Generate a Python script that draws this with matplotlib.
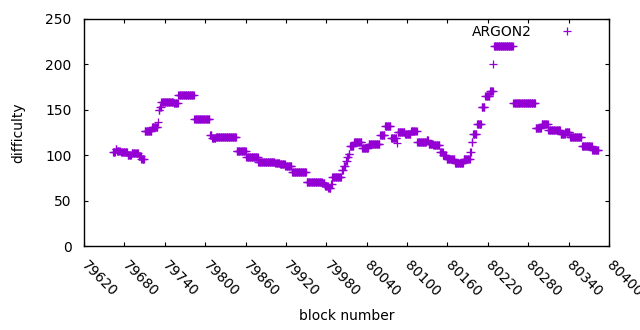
import numpy as np
import matplotlib
matplotlib.use('Agg')
import matplotlib.pyplot as plt
import matplotlib.transforms as mtransforms

plt.rcParams['font.family'] = ['DejaVu Sans']

# runs of blocks that share one difficulty value
run_start = [79663, 79667, 79669, 79675, 79685, 79691, 79701, 79705, 79710, 79721,
             79730, 79731, 79733, 79735, 79753, 79760, 79784, 79807, 79810, 79816,
             79847, 79861, 79879, 79889, 79904, 79911, 79919, 79929, 79951, 79974,
             79978, 79983, 79987, 79989, 80003, 80006, 80009, 80011, 80013, 80015,
             80021, 80033, 80043, 80060, 80067, 80076, 80085, 80086, 80097, 80106,
             80115, 80129, 80132, 80139, 80149, 80154, 80159, 80171, 80184, 80194,
             80196, 80198, 80204, 80211, 80216, 80223, 80228, 80229, 80258, 80291,
             80300, 80310, 80328, 80335, 80342, 80360, 80375]
run_end = [79666, 79668, 79673, 79684, 79690, 79700, 79704, 79709, 79720, 79729,
           79730, 79732, 79734, 79752, 79759, 79783, 79806, 79809, 79815, 79846,
           79860, 79878, 79888, 79903, 79910, 79918, 79928, 79950, 79973, 79977,
           79982, 79986, 79988, 80002, 80005, 80008, 80010, 80012, 80014, 80020,
           80032, 80042, 80059, 80066, 80075, 80084, 80085, 80096, 80105, 80114,
           80128, 80131, 80138, 80148, 80153, 80158, 80170, 80183, 80193, 80195,
           80197, 80203, 80210, 80215, 80222, 80227, 80228, 80257, 80290, 80299,
           80309, 80327, 80334, 80341, 80359, 80374, 80384]
run_value = [103, 107, 105, 103, 100, 102, 99, 96, 127, 131,
             137, 150, 153, 159, 157, 166, 140, 122, 119, 120,
             105, 98, 92, 93, 91, 90, 88, 82, 71, 69,
             66, 64, 68, 76, 84, 88, 94, 98, 101, 110,
             115, 108, 112, 122, 132, 119, 113, 126, 123, 127,
             114, 117, 112, 111, 103, 100, 96, 91, 96, 104,
             114, 123, 134, 153, 165, 171, 200, 220, 157, 130,
             134, 128, 123, 126, 120, 110, 106]

blocks = np.concatenate([np.arange(s, e + 1) for s, e in zip(run_start, run_end)])
difficulty = np.concatenate([np.full(e - s + 1, v) for s, e, v in zip(run_start, run_end, run_value)])

fig = plt.figure(figsize=(6.4, 3.3), dpi=100)
ax = fig.add_axes([84/640, 84/330, 525/640, 227/330])
ax.plot(blocks, difficulty, linestyle='none', marker='+', ms=5.3, mew=0.9,
        color='#9400d3', label='ARGON2')

ax.set_xlim(79620, 80400)
ax.set_ylim(0, 250)
ax.set_xticks(np.arange(79620, 80401, 60))
ax.set_yticks(np.arange(0, 251, 50))
ax.tick_params(direction='in', length=3, width=0.8, top=True, right=True,
               labelsize=10)
ax.tick_params(axis='y', pad=9)
ax.tick_params(axis='x', pad=9)
# gnuplot starts the rotated labels a little right of the tick
shift = mtransforms.ScaledTranslation(5/100, 0, fig.dpi_scale_trans)
for lbl in ax.get_xticklabels():
    lbl.set_rotation(-45)
    lbl.set_ha('left')
    lbl.set_va('top')
    lbl.set_rotation_mode('anchor')
    lbl.set_transform(lbl.get_transform() + shift)
for sp in ax.spines.values():
    sp.set_linewidth(1)

ax.set_xlabel('block number', fontsize=10, labelpad=7)
ax.set_ylabel('difficulty', fontsize=10, labelpad=14)

ax.legend(loc='upper right', bbox_to_anchor=(0.957, 1.0), frameon=False,
          markerfirst=False, fontsize=10, handlelength=2, handletextpad=1.5,
          borderaxespad=0)

fig.savefig('out.png', dpi=100)
